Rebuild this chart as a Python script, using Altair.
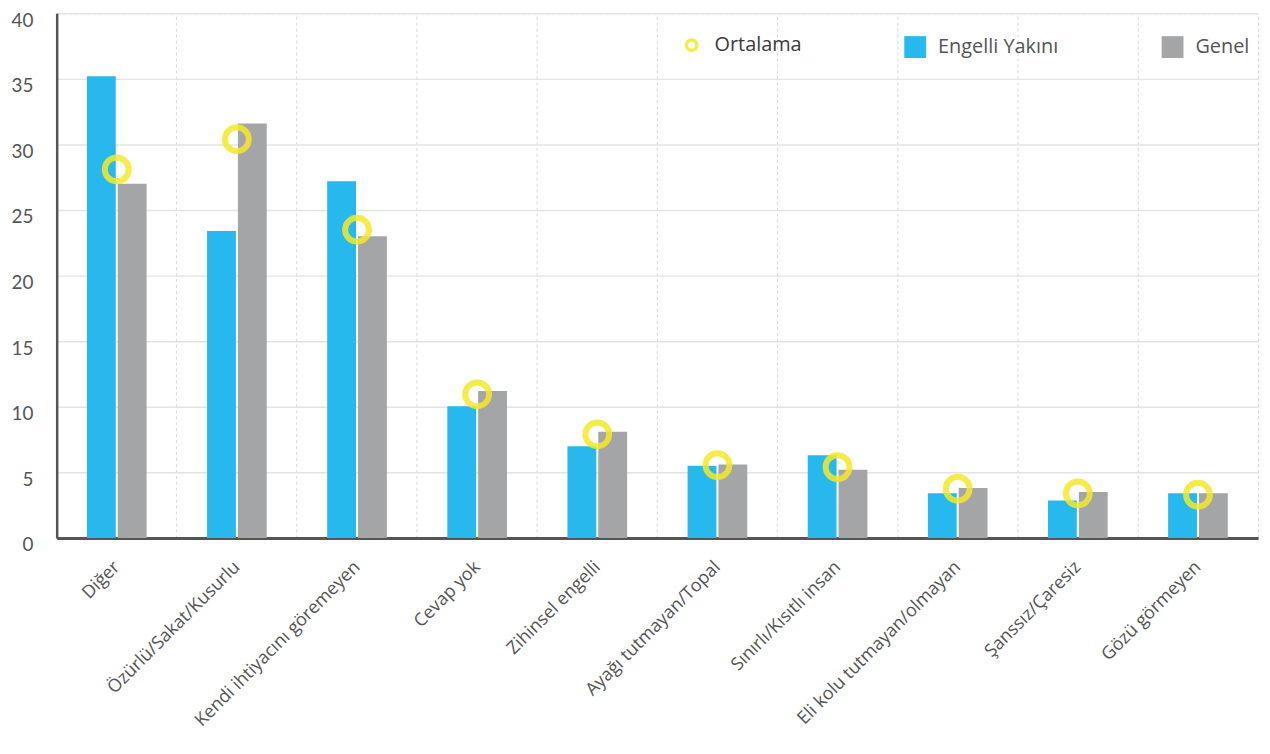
import altair as alt
import pandas as pd

kategoriler = [
    "Diğer",
    "Özürlü/Sakat/Kusurlu",
    "Kendi ihtiyacını göremeyen",
    "Cevap yok",
    "Zihinsel engelli",
    "Ayağı tutmayan/Topal",
    "Sınırlı/Kısıtlı insan",
    "Eli kolu tutmayan/olmayan",
    "Şanssız/Çaresiz",
    "Gözü görmeyen",
]
engelli_yakini = [35.2, 23.4, 27.2, 10.05, 7.0, 5.5, 6.3, 3.4, 2.85, 3.4]
genel = [27.0, 31.6, 23.0, 11.2, 8.1, 5.6, 5.2, 3.8, 3.5, 3.4]
ortalama = [28.1, 30.4, 23.5, 10.95, 7.9, 5.55, 5.4, 3.75, 3.4, 3.3]
seriler = ["Engelli Yakını", "Genel"]
y_ticks = [0, 5, 10, 15, 20, 25, 30, 35, 40]

BLUE = "#27B9EE"
GRAY = "#A4A5A7"
YELLOW = "#F4E82A"

bars_df = pd.DataFrame(
    {
        "kategori": kategoriler * 2,
        "seri": [seriler[0]] * len(kategoriler) + [seriler[1]] * len(kategoriler),
        "deger": engelli_yakini + genel,
    }
)
avg_df = pd.DataFrame(
    {"kategori": kategoriler, "ortalama": ortalama, "isim": ["Ortalama"] * len(kategoriler)}
)

x_scale = alt.Scale(domain=kategoriler, paddingInner=0, paddingOuter=0)
y_scale = alt.Scale(domain=[0, 40], nice=False)

bars = alt.Chart(bars_df).mark_bar().encode(
    x=alt.X(
        "kategori:N",
        sort=kategoriler,
        scale=x_scale,
        axis=alt.Axis(
            title=None,
            labelAngle=-45,
            labelFont="Open Sans",
            labelFontSize=18,
            labelColor="#555555",
            labelPadding=20,
            labelOffset=-6,
            labelLimit=500,
            ticks=False,
            grid=False,
            domainColor="#555555",
            domainWidth=3,
        ),
    ),
    xOffset=alt.XOffset(
        "seri:N", sort=seriler, scale=alt.Scale(domain=seriler, paddingInner=0.065, paddingOuter=0.98)
    ),
    y=alt.Y(
        "deger:Q",
        scale=y_scale,
        axis=alt.Axis(
            title=None,
            values=y_ticks,
            labelFont="Lato",
            labelFontSize=19,
            labelColor="#555555",
            labelBaseline="middle",
            labelOffset=7,
            labelPadding=24,
            ticks=False,
            domainColor="#555555",
            domainWidth=2.5,
            gridColor="#E4E4E4",
            gridWidth=1.5,
        ),
    ),
    color=alt.Color(
        "seri:N",
        scale=alt.Scale(domain=seriler, range=[BLUE, GRAY]),
        legend=alt.Legend(
            title=None,
            orient="none",
            direction="horizontal",
            legendX=853,
            legendY=23,
            symbolType="square",
            symbolSize=484,
            symbolStrokeWidth=0,
            labelFont="Open Sans",
            labelFontSize=20,
            labelColor="#555555",
            labelOffset=12,
            columnPadding=104,
        ),
    ),
)

points = alt.Chart(avg_df).mark_point(
    shape="circle", filled=False, size=576, strokeWidth=6, opacity=0.85
).encode(
    x=alt.X(
        "kategori:N",
        sort=kategoriler,
        scale=x_scale,
        axis=alt.Axis(
            orient="top",
            title=None,
            labels=False,
            ticks=False,
            domain=False,
            grid=True,
            bandPosition=0,
            gridColor="#D8D8D8",
            gridDash=[3, 3],
            gridWidth=1,
        ),
    ),
    y=alt.Y("ortalama:Q", scale=y_scale),
    color=alt.Color(
        "isim:N",
        scale=alt.Scale(domain=["Ortalama"], range=[YELLOW]),
        legend=alt.Legend(
            title=None,
            orient="none",
            legendX=629,
            legendY=22,
            symbolType="circle",
            symbolSize=110,
            symbolStrokeWidth=3.5,
            labelFont="Open Sans",
            labelFontSize=20,
            labelColor="#3A3A3A",
            labelOffset=13,
        ),
    ),
)

chart = (
    alt.layer(bars, points)
    .resolve_scale(color="independent")
    .resolve_axis(x="independent")
    .properties(
        width=1209,
        height=528,
        autosize=alt.AutoSizeParams(type="none"),
        padding={"left": 49, "top": 3, "right": 4, "bottom": 201},
    )
    .configure_view(stroke="#D8D8D8", strokeDash=[3, 3])
)

chart.save("out.html", embed_options={"renderer": "svg", "actions": False})
